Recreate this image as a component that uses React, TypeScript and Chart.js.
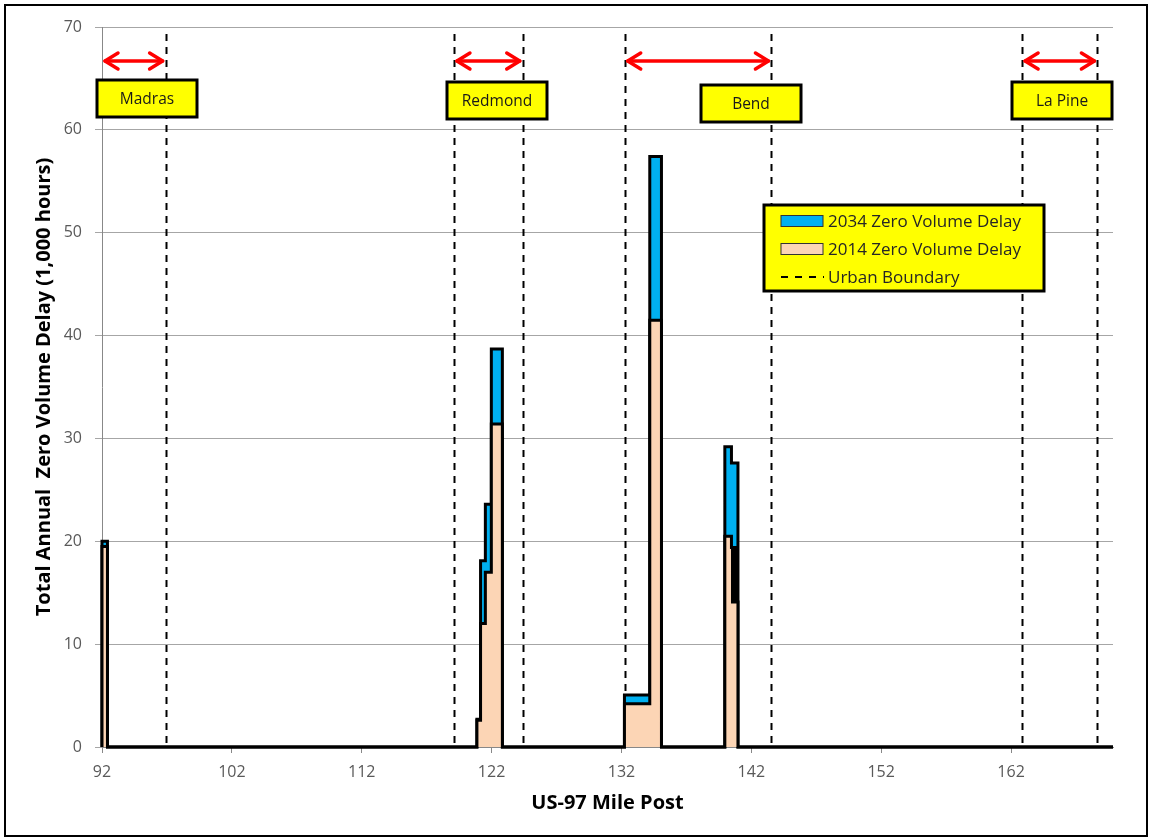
import React, { useEffect, useRef } from 'react';
import { Chart, registerables } from 'chart.js';

Chart.register(...registerables);

// ---- data ----
const xMin = 92;
const xMax = 169.85;
const xTickLabels = [92, 102, 112, 122, 132, 142, 152, 162];
const yTickLabels = [0, 10, 20, 30, 40, 50, 60, 70];

// mile-post segments (start / end) with delay values (1,000 hours)
const segStart = [92.0, 120.87, 121.15, 121.52, 121.98, 132.23, 134.18, 139.96, 140.47, 140.55, 140.63, 140.71, 140.79, 140.87];
const segEnd = [92.42, 121.15, 121.52, 121.98, 122.83, 134.18, 135.08, 140.47, 140.55, 140.63, 140.71, 140.79, 140.87, 140.97];
const delay2014 = [19.5, 2.6, 12.0, 17.0, 31.4, 4.2, 41.5, 20.5, 19.4, 14.1, 19.4, 14.1, 19.4, 14.1];
const delay2034 = [20.0, 2.7, 18.1, 23.6, 38.7, 5.05, 57.4, 29.2, 27.6, 27.6, 27.6, 27.6, 27.6, 27.6];

// urban boundaries
const towns = ['Madras', 'Redmond', 'Bend', 'La Pine'];
const townStart = [92, 119.1, 132.25, 162.85];
const townEnd = [96.9, 124.4, 143.55, 168.65];

const legendLabels = ['2034 Zero Volume Delay', '2014 Zero Volume Delay', 'Urban Boundary'];

const COLOR_2034 = '#00b0f0';
const COLOR_2014 = '#fcd5b5';
const FONT = '"Open Sans", "Liberation Sans", sans-serif';

function buildSteps(values: number[]) {
  const pts: { x: number; y: number }[] = [{ x: xMin, y: 0 }];
  const n = segStart.length;
  for (let i = 0; i < n; i++) {
    if (i === 0 || segStart[i] !== segEnd[i - 1]) pts.push({ x: segStart[i], y: 0 });
    pts.push({ x: segStart[i], y: values[i] });
    pts.push({ x: segEnd[i], y: values[i] });
    if (i === n - 1 || segStart[i + 1] !== segEnd[i]) pts.push({ x: segEnd[i], y: 0 });
  }
  pts.push({ x: xMax, y: 0 });
  return pts;
}

function arrowHead(ctx: CanvasRenderingContext2D, x: number, y: number, dir: number) {
  const len = 13;
  const spread = 8;
  ctx.beginPath();
  ctx.moveTo(x - dir * len, y - spread);
  ctx.lineTo(x, y);
  ctx.lineTo(x - dir * len, y + spread);
  ctx.stroke();
}

const decorPlugin = {
  id: 'decor',
  beforeDatasetsDraw(chart: any) {
    const ctx = chart.ctx as CanvasRenderingContext2D;
    const xs = chart.scales.x;
    const area = chart.chartArea;
    ctx.save();
    ctx.strokeStyle = '#000';
    ctx.lineWidth = 2;
    ctx.setLineDash([7, 6]);
    const bounds: number[] = [];
    townStart.forEach((v) => bounds.push(v));
    townEnd.forEach((v) => bounds.push(v));
    bounds.forEach((v) => {
      if (v <= xMin) return;
      const px = Math.round(xs.getPixelForValue(v)) + 0.5;
      ctx.beginPath();
      ctx.moveTo(px, area.top + 7);
      ctx.lineTo(px, area.bottom);
      ctx.stroke();
    });
    ctx.restore();
  },
  afterDraw(chart: any) {
    const ctx = chart.ctx as CanvasRenderingContext2D;
    const xs = chart.scales.x;
    const area = chart.chartArea;
    ctx.save();

    // arrows
    ctx.strokeStyle = '#ff0000';
    ctx.lineWidth = 3.5;
    ctx.lineCap = 'round';
    ctx.lineJoin = 'round';
    const ay = 61;
    towns.forEach((_, i) => {
      const x1 = xs.getPixelForValue(townStart[i]) + 3;
      const x2 = xs.getPixelForValue(townEnd[i]) - 3;
      ctx.beginPath();
      ctx.moveTo(x1, ay);
      ctx.lineTo(x2, ay);
      ctx.stroke();
      arrowHead(ctx, x1, ay, -1);
      arrowHead(ctx, x2, ay, 1);
    });

    // town label boxes
    const boxLeft = [97, 447, 701, 1012];
    const boxTop = [80, 82, 85, 82];
    const boxW = 100;
    const boxH = 37;
    ctx.lineCap = 'butt';
    ctx.lineJoin = 'miter';
    towns.forEach((t, i) => {
      ctx.fillStyle = '#ffff00';
      ctx.fillRect(boxLeft[i], boxTop[i], boxW, boxH);
      ctx.strokeStyle = '#000';
      ctx.lineWidth = 3;
      ctx.strokeRect(boxLeft[i], boxTop[i], boxW, boxH);
      ctx.fillStyle = '#1a1a1a';
      ctx.font = `15.5px ${FONT}`;
      ctx.textAlign = 'center';
      ctx.textBaseline = 'middle';
      ctx.fillText(t, boxLeft[i] + boxW / 2, boxTop[i] + boxH / 2 + 1);
    });

    // legend
    const lx = 764, ly = 205, lw = 280, lh = 86;
    ctx.fillStyle = '#ffff00';
    ctx.fillRect(lx, ly, lw, lh);
    ctx.strokeStyle = '#000';
    ctx.lineWidth = 3;
    ctx.strokeRect(lx, ly, lw, lh);
    const rowY = [221, 249, 277];
    ctx.lineWidth = 1;
    ctx.fillStyle = COLOR_2034;
    ctx.fillRect(781, rowY[0] - 5.5, 42, 11);
    ctx.strokeStyle = '#333';
    ctx.strokeRect(781, rowY[0] - 5.5, 42, 11);
    ctx.fillStyle = COLOR_2014;
    ctx.fillRect(781, rowY[1] - 5.5, 42, 11);
    ctx.strokeRect(781, rowY[1] - 5.5, 42, 11);
    ctx.strokeStyle = '#000';
    ctx.lineWidth = 2;
    ctx.setLineDash([7, 7]);
    ctx.beginPath();
    ctx.moveTo(781, rowY[2]);
    ctx.lineTo(824, rowY[2]);
    ctx.stroke();
    ctx.setLineDash([]);
    ctx.fillStyle = '#262626';
    ctx.font = `17px ${FONT}`;
    ctx.textAlign = 'left';
    ctx.textBaseline = 'middle';
    legendLabels.forEach((l, i) => ctx.fillText(l, 828, rowY[i] + 1));

    // axis titles
    ctx.fillStyle = '#000';
    ctx.font = `bold 20px ${FONT}`;
    ctx.textAlign = 'center';
    ctx.textBaseline = 'middle';
    ctx.fillText('US-97 Mile Post', (area.left + area.right) / 2, 803);
    ctx.save();
    ctx.translate(44, (area.top + area.bottom) / 2);
    ctx.rotate(-Math.PI / 2);
    ctx.fillText('Total Annual  Zero Volume Delay (1,000 hours)', 0, 0);
    ctx.restore();

    // outer frame
    ctx.strokeStyle = '#000';
    ctx.lineWidth = 2;
    ctx.strokeRect(5, 5, 1142, 831);
    ctx.restore();
  },
};

export default function App() {
  const ref = useRef<HTMLCanvasElement | null>(null);
  useEffect(() => {
    if (!ref.current) return;
    const chart = new Chart(ref.current, {
      type: 'line',
      data: {
        datasets: [
          {
            label: legendLabels[1],
            data: buildSteps(delay2014),
            backgroundColor: COLOR_2014,
            borderColor: '#000',
            borderWidth: 3,
            fill: 'origin',
            pointRadius: 0,
            tension: 0,
            borderJoinStyle: 'miter',
            clip: 6,
          },
          {
            label: legendLabels[0],
            data: buildSteps(delay2034),
            backgroundColor: COLOR_2034,
            borderColor: '#000',
            borderWidth: 3,
            fill: 'origin',
            pointRadius: 0,
            tension: 0,
            borderJoinStyle: 'miter',
            clip: 6,
          },
        ],
      },
      options: {
        responsive: false,
        animation: false,
        devicePixelRatio: 1,
        layout: { padding: { left: 0, top: 27, right: 38, bottom: 43 } },
        plugins: { legend: { display: false }, tooltip: { enabled: false } },
        scales: {
          x: {
            type: 'linear',
            min: xMin,
            max: xMax,
            afterBuildTicks: (s: any) => {
              s.ticks = xTickLabels.map((v) => ({ value: v }));
            },
            afterFit: (s: any) => {
              s.height = 50;
            },
            grid: { drawOnChartArea: false, drawTicks: true, tickLength: 6, color: '#888' },
            border: { display: true, color: '#888' },
            ticks: { color: '#595959', font: { family: FONT, size: 16 }, padding: 10, maxRotation: 0 },
          },
          y: {
            min: 0,
            max: 70,
            afterBuildTicks: (s: any) => {
              s.ticks = yTickLabels.map((v) => ({ value: v }));
            },
            afterFit: (s: any) => {
              s.width = 102;
            },
            grid: { color: '#a6a6a6', tickLength: 7 },
            border: { display: true, color: '#888' },
            ticks: { color: '#595959', font: { family: FONT, size: 16 }, padding: 13 },
          },
        },
      },
      plugins: [decorPlugin],
    });
    return () => chart.destroy();
  }, []);
  return (
    <div style={{ position: 'absolute', left: 0, top: 0, width: 1151, height: 840, background: '#fff' }}>
      <canvas ref={ref} width={1151} height={840} style={{ display: 'block', width: 1151, height: 840 }} />
    </div>
  );
}
